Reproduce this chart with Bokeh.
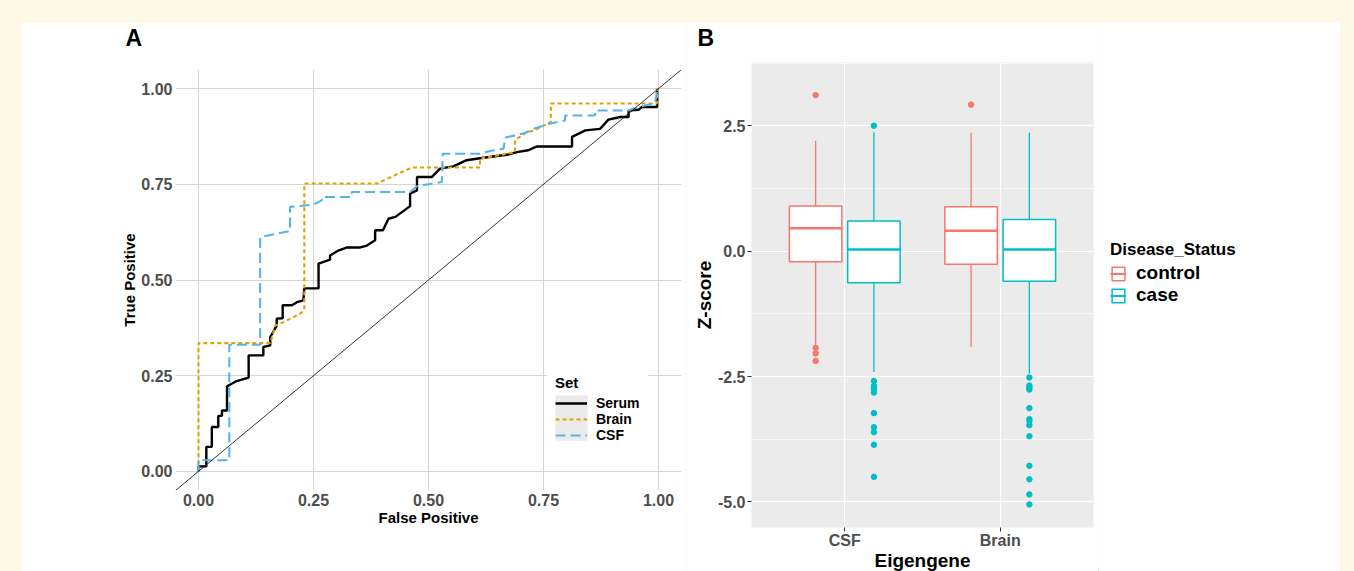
from bokeh.plotting import figure
from bokeh.models import (FixedTicker, NumeralTickFormatter, Legend, LegendItem, Title,
                          BoxAnnotation, Slope, Spacer, ColumnDataSource, Range1d)
from bokeh.layouts import row, column
from bokeh.embed import file_html
from bokeh.resources import INLINE

FONT = "Liberation Sans"
CREAM = "#FEF9E6"

# ---------------- Panel A data (ROC curves) ----------------
serum_fpr = [0, 0, 0.017, 0.017, 0.029, 0.029, 0.043, 0.043, 0.051, 0.051, 0.062, 0.062,
             0.072, 0.083, 0.109, 0.109, 0.141, 0.141, 0.156, 0.156, 0.170, 0.170, 0.183,
             0.183, 0.203, 0.214, 0.228, 0.230, 0.261, 0.261, 0.286, 0.286, 0.304, 0.323,
             0.352, 0.366, 0.384, 0.384, 0.401, 0.413, 0.428, 0.460, 0.460, 0.475, 0.475,
             0.507, 0.525, 0.554, 0.583, 0.612, 0.674, 0.692, 0.717, 0.736, 0.812, 0.812,
             0.841, 0.873, 0.891, 0.917, 0.935, 0.935, 0.957, 0.964, 0.997, 0.997]
serum_tpr = [0, 0.013, 0.013, 0.064, 0.064, 0.116, 0.116, 0.145, 0.145, 0.159, 0.159, 0.222,
             0.229, 0.236, 0.245, 0.303, 0.303, 0.325, 0.329, 0.351, 0.381, 0.399, 0.400,
             0.434, 0.434, 0.442, 0.447, 0.478, 0.478, 0.543, 0.553, 0.564, 0.577, 0.585,
             0.585, 0.590, 0.604, 0.630, 0.630, 0.660, 0.665, 0.693, 0.726, 0.734, 0.769,
             0.769, 0.791, 0.797, 0.813, 0.818, 0.828, 0.834, 0.839, 0.849, 0.849, 0.874,
             0.891, 0.895, 0.919, 0.926, 0.926, 0.943, 0.945, 0.952, 0.952, 1.0]
brain_fpr = [0, 0, 0.156, 0.167, 0.185, 0.221, 0.230, 0.230, 0.388, 0.420, 0.464, 0.612,
             0.612, 0.688, 0.688, 0.710, 0.728, 0.766, 0.766, 0.997, 0.997]
brain_tpr = [0, 0.335, 0.335, 0.381, 0.390, 0.412, 0.422, 0.752, 0.752, 0.770, 0.794, 0.794,
             0.817, 0.834, 0.865, 0.884, 0.890, 0.913, 0.961, 0.961, 1.0]
csf_fpr = [0, 0, 0.067, 0.067, 0.134, 0.134, 0.199, 0.199, 0.250, 0.268, 0.268, 0.333, 0.333,
           0.460, 0.475, 0.529, 0.531, 0.612, 0.634, 0.663, 0.667, 0.710, 0.728, 0.765, 0.797,
           0.797, 0.862, 0.862, 0.934, 0.957, 0.993, 0.997, 0.997]
csf_tpr = [0, 0.029, 0.029, 0.331, 0.331, 0.612, 0.628, 0.691, 0.697, 0.708, 0.717, 0.717,
           0.730, 0.730, 0.745, 0.756, 0.830, 0.830, 0.837, 0.843, 0.872, 0.884, 0.895, 0.909,
           0.917, 0.930, 0.930, 0.943, 0.943, 0.952, 0.962, 0.997, 1.0]
roc_ticks = [0, 0.25, 0.5, 0.75, 1.0]
set_names = ["Serum", "Brain", "CSF"]

# ---------------- Panel B data (boxplots) ----------------
eigengenes = ["CSF", "Brain"]
statuses = ["control", "case"]
status_colors = ["#F8766D", "#00BFC4"]
control_low = [-1.88, -1.91]
control_q1 = [-0.21, -0.26]
control_med = [0.457, 0.406]
control_q3 = [0.90, 0.885]
control_high = [2.20, 2.36]
case_low = [-2.41, -2.44]
case_q1 = [-0.63, -0.60]
case_med = [0.034, 0.034]
case_q3 = [0.60, 0.63]
case_high = [2.37, 2.36]
csf_control_out = [3.11, -1.93, -2.04, -2.19]
csf_case_out = [2.50, -2.59, -2.69, -2.73, -2.77, -2.82, -3.23, -3.51, -3.61, -3.86, -4.50]
brain_control_out = [2.92]
brain_case_out = [-2.52, -2.68, -2.72, -2.76, -3.13, -3.35, -3.39, -3.47, -3.69, -4.28,
                  -4.55, -4.85, -5.05]
z_ticks = [-5.0, -2.5, 0.0, 2.5]
z_minor = [-3.75, -1.25, 1.25, 3.75]

# ======================= Panel A =======================
pa = figure(width=665, height=549, x_range=Range1d(-0.05, 1.05), y_range=Range1d(-0.05, 1.05),
            output_backend="svg", toolbar_location=None,
            min_border_left=154, min_border_right=5, min_border_top=47, min_border_bottom=81,
            background_fill_color="white", border_fill_color="white")
pa.outline_line_color = None
for ax in (pa.xaxis[0], pa.yaxis[0]):
    ax.ticker = FixedTicker(ticks=roc_ticks, minor_ticks=[])
    ax.formatter = NumeralTickFormatter(format="0.00")
    ax.axis_line_color = None
    ax.major_tick_line_color = None
    ax.minor_tick_line_color = None
    ax.major_tick_out = 0
    ax.major_tick_in = 0
    ax.minor_tick_out = 0
    ax.major_label_text_font = FONT
    ax.major_label_text_font_style = "bold"
    ax.major_label_text_font_size = "16px"
    ax.major_label_text_color = "#4D4D4D"
    ax.major_label_standoff = 3
    ax.axis_label_text_font = FONT
    ax.axis_label_text_font_style = "bold"
    ax.axis_label_text_font_size = "15px"
    ax.axis_label_text_color = "black"
pa.xaxis.axis_label = "False Positive"
pa.yaxis.axis_label = "True Positive"
pa.xaxis.axis_label_standoff = 0
pa.yaxis.axis_label_standoff = 0
pa.grid.grid_line_color = "#D6D6D6"
pa.grid.grid_line_width = 1

pa.add_layout(Slope(gradient=1, y_intercept=0, line_color="black", line_width=0.8))
r_serum = pa.line(serum_fpr, serum_tpr, line_color="black", line_width=2.4)
r_brain = pa.line(brain_fpr, brain_tpr, line_color="#E69F00", line_width=2.1, line_dash="4 3")
r_csf = pa.line(csf_fpr, csf_tpr, line_color="#56B4E9", line_width=2.1, line_dash="10 5")

pa.add_layout(BoxAnnotation(left=0.758, right=0.978, bottom=0.0625, top=0.2715,
                            fill_color="white", fill_alpha=1, line_color=None))
pa.add_layout(BoxAnnotation(left=0.776, right=0.846, bottom=0.08, top=0.198,
                            fill_color="#EBEBEB", fill_alpha=1, line_color=None))
leg_a = Legend(items=[LegendItem(label=n, renderers=[r]) for n, r in
                      zip(set_names, [r_serum, r_brain, r_csf])],
               location=(380, 47), title="Set", padding=6, margin=0, spacing=0,
               glyph_width=32, glyph_height=14, label_height=14, label_standoff=9,
               title_standoff=4, background_fill_alpha=0, border_line_color=None,
               label_text_font=FONT, label_text_font_style="bold", label_text_font_size="14px",
               label_text_color="black", title_text_font=FONT, title_text_font_style="bold",
               title_text_font_size="15px", title_text_color="black")
pa.add_layout(leg_a, "center")
pa.title = Title(text="A\n ", align="left", offset=-50, standoff=0, vertical_align="bottom",
                 text_line_height=0.7, text_font=FONT, text_font_style="bold",
                 text_font_size="23px", text_color="black")

# ======================= Panel B =======================
pb = figure(width=412, height=565, x_range=Range1d(0.4, 2.6), y_range=Range1d(-5.51, 3.76),
            output_backend="svg", toolbar_location=None,
            min_border_left=65, min_border_right=5, min_border_top=40, min_border_bottom=60,
            background_fill_color="#EBEBEB", border_fill_color="white")
pb.outline_line_color = None
pb.xaxis.ticker = FixedTicker(ticks=[i + 1 for i in range(len(eigengenes))], minor_ticks=[])
pb.xaxis.major_label_overrides = {i + 1: g for i, g in enumerate(eigengenes)}
pb.yaxis.ticker = FixedTicker(ticks=z_ticks, minor_ticks=z_minor)
pb.yaxis.formatter = NumeralTickFormatter(format="0.0")
for ax in (pb.xaxis[0], pb.yaxis[0]):
    ax.axis_line_color = None
    ax.major_tick_line_color = "#333333"
    ax.major_tick_line_width = 1
    ax.major_tick_out = 4
    ax.major_tick_in = 0
    ax.minor_tick_line_color = None
    ax.minor_tick_out = 0
    ax.major_label_text_font = FONT
    ax.major_label_text_font_style = "bold"
    ax.major_label_text_font_size = "16px"
    ax.major_label_text_color = "#4D4D4D"
    ax.axis_label_text_font = FONT
    ax.axis_label_text_font_style = "bold"
    ax.axis_label_text_font_size = "19px"
    ax.axis_label_text_color = "black"
    ax.axis_label_standoff = 0
pb.yaxis.major_label_standoff = 2
pb.xaxis.major_label_standoff = 0
pb.xaxis.axis_label_standoff = -2
pb.yaxis.axis_label = "Z-score"
pb.xaxis.axis_label = "Eigengene"
pb.grid.grid_line_color = "white"
pb.grid.grid_line_width = 1.2
pb.ygrid.minor_grid_line_color = "white"
pb.ygrid.minor_grid_line_width = 0.6
pb.title = Title(text="B\n ", align="left", offset=-54, standoff=0, vertical_align="bottom",
                 text_line_height=0.45, text_font=FONT, text_font_style="bold",
                 text_font_size="23px", text_color="black")

dodge_width = 0.75
n_status = len(statuses)
box_width = dodge_width / n_status * 0.9
stats = {
    "control": (control_low, control_q1, control_med, control_q3, control_high,
                [csf_control_out, brain_control_out]),
    "case": (case_low, case_q1, case_med, case_q3, case_high,
             [csf_case_out, brain_case_out]),
}

# Legend-only figure: its ranges lie away from the data, so only the keys show
pc = figure(width=242, height=549, x_range=Range1d(10, 11), y_range=Range1d(10, 11),
            output_backend="svg", toolbar_location=None, min_border=0,
            x_axis_location=None, y_axis_location=None,
            background_fill_color="white", border_fill_color="white")
pc.outline_line_color = None
pc.grid.visible = False

legend_items_b = []
for si, status in enumerate(statuses):
    color = status_colors[si]
    offset = -dodge_width / 2 + dodge_width / n_status * (si + 0.5)
    low, q1, med, q3, high, outs = stats[status]
    xs = [gi + 1 + offset for gi in range(len(eigengenes))]
    src = ColumnDataSource(dict(x=xs, x0=[x - box_width / 2 for x in xs],
                                x1=[x + box_width / 2 for x in xs],
                                low=low, q1=q1, med=med, q3=q3, high=high))
    pb.segment(x0="x", y0="q3", x1="x", y1="high", source=src, line_color=color, line_width=1.3)
    pb.segment(x0="x", y0="low", x1="x", y1="q1", source=src, line_color=color, line_width=1.3)
    pb.vbar(x="x", top="q3", bottom="q1", width=box_width, source=src,
            fill_color="white", line_color=color, line_width=1.5)
    pb.segment(x0="x0", y0="med", x1="x1", y1="med", source=src,
               line_color=color, line_width=2.5)
    ox, oy = [], []
    for gi, vals in enumerate(outs):
        ox += [xs[gi]] * len(vals)
        oy += vals
    pb.scatter(ox, oy, size=5.5, fill_color=color, line_color=color)
    kb = pc.vbar(x="x", top="q3", bottom="q1", width=box_width, source=src,
                 fill_color="white", line_color=color, line_width=1.5)
    km = pc.segment(x0="x0", y0="med", x1="x1", y1="med", source=src,
                    line_color=color, line_width=2)
    legend_items_b.append(LegendItem(label=status, renderers=[kb, km]))

leg_b = Legend(items=legend_items_b, location=(12, 265), title="Disease_Status",
               padding=0, margin=0, spacing=0, glyph_width=16, glyph_height=17,
               label_height=17, label_standoff=10, title_standoff=2,
               background_fill_alpha=0, border_line_color=None,
               label_text_font=FONT, label_text_font_style="bold", label_text_font_size="19px",
               label_text_color="black", title_text_font=FONT, title_text_font_style="bold",
               title_text_font_size="17px", title_text_color="black")
pc.add_layout(leg_b, "center")

layout = column(Spacer(width=1, height=22),
                row(Spacer(width=21, height=1), column(pa), column(pb), column(pc)),
                styles={"background-color": CREAM})

html = file_html(layout, INLINE, title="ROC and Eigengene boxplots")
html = html.replace("</head>",
                    "<style>html, body {background-color: %s !important; overflow: hidden;}</style></head>"
                    % CREAM, 1)
open("out.html", "w").write(html)
